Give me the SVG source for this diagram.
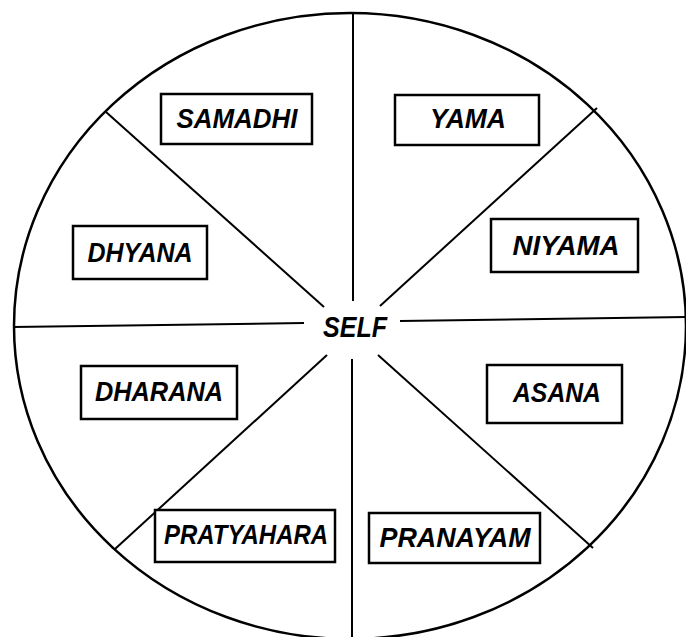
<svg xmlns="http://www.w3.org/2000/svg" width="686" height="637" viewBox="0 0 686 637">
  <style>
    .ring { fill: none; stroke: #000; stroke-width: 2.5; }
    .spoke { stroke: #000; stroke-width: 2; fill: none; stroke-linecap: butt; }
    .box { fill: #fff; stroke: #000; stroke-width: 2.5; }
    .lbl { font-family: "Liberation Sans", Arial, sans-serif; font-weight: bold; font-style: italic; font-size: 28px; fill: #000; text-anchor: middle; }
    .self { font-size: 30px; }
  </style>
  <rect width="686" height="637" fill="#fff"/>
  <ellipse class="ring" cx="350" cy="326" rx="336" ry="313"/>
  <g id="connectors">
    <line class="spoke" x1="353" y1="13" x2="353" y2="301"/>
    <line class="spoke" x1="352" y1="359" x2="352" y2="640"/>
    <line class="spoke" x1="13" y1="327" x2="304" y2="323"/>
    <line class="spoke" x1="400" y1="321" x2="686" y2="317"/>
    <line class="spoke" x1="106" y1="112" x2="324" y2="307"/>
    <line class="spoke" x1="597" y1="108" x2="380" y2="306"/>
    <line class="spoke" x1="327" y1="355" x2="115" y2="549"/>
    <line class="spoke" x1="378" y1="355" x2="593" y2="548"/>
  </g>
  <g id="self">
    <text class="lbl self" x="355" y="337" textLength="64" lengthAdjust="spacingAndGlyphs">SELF</text>
  </g>
  <g id="samadhi">
    <rect class="box" x="161" y="94" width="151" height="50"/>
    <text class="lbl" x="237" y="128" textLength="121" lengthAdjust="spacingAndGlyphs">SAMADHI</text>
  </g>
  <g id="yama">
    <rect class="box" x="395" y="95" width="144" height="50"/>
    <text class="lbl" x="468" y="128" textLength="76" lengthAdjust="spacingAndGlyphs">YAMA</text>
  </g>
  <g id="dhyana">
    <rect class="box" x="73" y="226" width="134" height="53"/>
    <text class="lbl" x="140" y="262" textLength="105" lengthAdjust="spacingAndGlyphs">DHYANA</text>
  </g>
  <g id="niyama">
    <rect class="box" x="491" y="219" width="147" height="53"/>
    <text class="lbl" x="566" y="255" textLength="107" lengthAdjust="spacingAndGlyphs">NIYAMA</text>
  </g>
  <g id="dharana">
    <rect class="box" x="81" y="366" width="156" height="53"/>
    <text class="lbl" x="159" y="401" textLength="128" lengthAdjust="spacingAndGlyphs">DHARANA</text>
  </g>
  <g id="asana">
    <rect class="box" x="487" y="365" width="135" height="58"/>
    <text class="lbl" x="557" y="402" textLength="88" lengthAdjust="spacingAndGlyphs">ASANA</text>
  </g>
  <g id="pratyahara">
    <rect class="box" x="155" y="510" width="180" height="52"/>
    <text class="lbl" x="246" y="544" textLength="164" lengthAdjust="spacingAndGlyphs">PRATYAHARA</text>
  </g>
  <g id="pranayam">
    <rect class="box" x="369" y="513" width="171" height="50"/>
    <text class="lbl" x="455" y="547" textLength="151" lengthAdjust="spacingAndGlyphs">PRANAYAM</text>
  </g>
</svg>
